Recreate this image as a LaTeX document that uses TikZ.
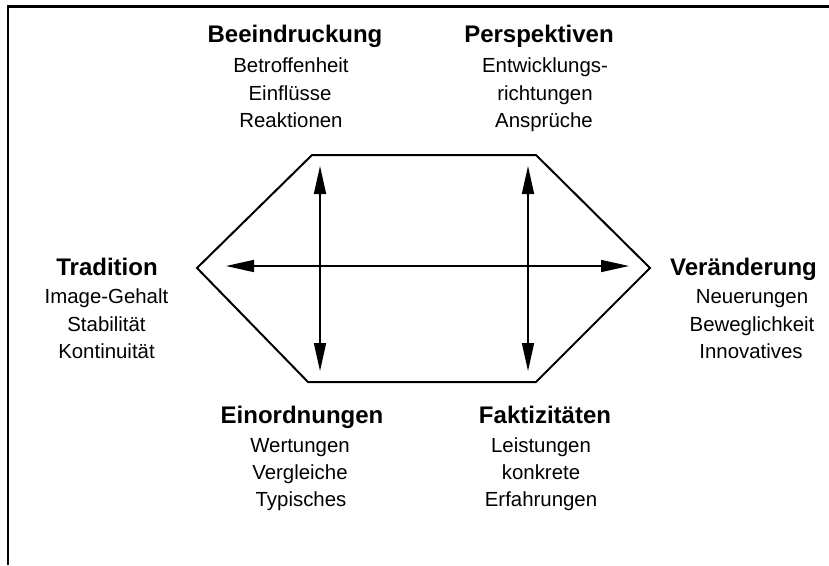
\documentclass[tikz,border=0pt]{standalone}
\usepackage{fontspec}
\setmainfont{Liberation Sans}
\usetikzlibrary{arrows.meta}
\begin{document}
\begin{tikzpicture}[x=1pt,y=-1pt,
  frameline/.style={line width=2.2pt},
  hexline/.style={line width=2pt,line join=miter},
  dblarrow/.style={line width=1.6pt,{Triangle[length=28pt,width=12pt]}-{Triangle[length=28pt,width=12pt]}},
  title/.style={anchor=base,inner sep=0pt,font=\fontsize{24}{28}\selectfont\bfseries},
  sub/.style={anchor=base,inner sep=0pt,font=\fontsize{20.4}{24}\selectfont}]
\useasboundingbox (0,0) rectangle (829,565);
% frame (top and left edges)
\coordinate (f1) at (8,565);
\coordinate (f2) at (8,6.5);
\coordinate (f3) at (829,6.5);
\draw[frameline] (f1) -- (f2) -- (f3);
% hexagon
\coordinate (hL) at (197,268);
\coordinate (hTL) at (312,155);
\coordinate (hTR) at (536,155);
\coordinate (hR) at (650,268);
\coordinate (hBR) at (536,382);
\coordinate (hBL) at (308,382);
\draw[hexline] (hL) -- (hTL) -- (hTR) -- (hR) -- (hBR) -- (hBL) -- cycle;
% arrows
\coordinate (aLt) at (320,166);
\coordinate (aLb) at (320,371);
\coordinate (aRt) at (528,166);
\coordinate (aRb) at (528,371);
\coordinate (aHl) at (226,266);
\coordinate (aHr) at (629,266);
\draw[dblarrow] (aLt) -- (aLb);
\draw[dblarrow] (aRt) -- (aRb);
\draw[dblarrow] (aHl) -- (aHr);
% Beeindruckung
\node[title] (t1) at (295,42) {Beeindruckung};
\node[sub] (t1a) at (291,72) {Betroffenheit};
\node[sub] (t1b) at (290,100) {Einflüsse};
\node[sub] (t1c) at (291,127) {Reaktionen};
% Perspektiven
\node[title] (t2) at (539,42) {Perspektiven};
\node[sub] (t2a) at (545,72) {Entwicklungs-};
\node[sub] (t2b) at (545,100) {richtungen};
\node[sub] (t2c) at (544,127) {Ansprüche};
% Tradition
\node[title] (t3) at (107,275) {Tradition};
\node[sub] (t3a) at (106.5,303) {Image-Gehalt};
\node[sub] (t3b) at (106.5,331) {Stabilität};
\node[sub] (t3c) at (106.5,358) {Kontinuität};
% Veraenderung
\node[title] (t4) at (743.5,275) {Veränderung};
\node[sub] (t4a) at (752,303) {Neuerungen};
\node[sub] (t4b) at (752,331) {Beweglichkeit};
\node[sub] (t4c) at (751,358) {Innovatives};
% Einordnungen
\node[title] (t5) at (302,423) {Einordnungen};
\node[sub] (t5a) at (300,452) {Wertungen};
\node[sub] (t5b) at (300,479) {Vergleiche};
\node[sub] (t5c) at (301,506) {Typisches};
% Faktizitaeten
\node[title] (t6) at (545,423) {Faktizitäten};
\node[sub] (t6a) at (541,452) {Leistungen};
\node[sub] (t6b) at (541,479) {konkrete};
\node[sub] (t6c) at (541,506) {Erfahrungen};
\end{tikzpicture}
\end{document}
